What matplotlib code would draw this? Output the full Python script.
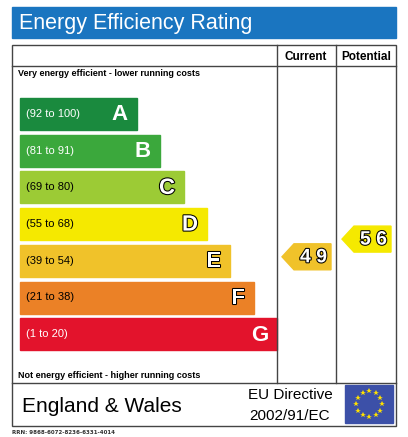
import matplotlib
matplotlib.use("Agg")
import matplotlib.pyplot as plt
from matplotlib.patches import Rectangle, Polygon
import matplotlib.patheffects as pe
import numpy as np

bands = ["A", "B", "C", "D", "E", "F", "G"]
ranges = ["(92 to 100)", "(81 to 91)", "(69 to 80)", "(55 to 68)", "(39 to 54)", "(21 to 38)", "(1 to 20)"]
colors = ["#1a8a3e", "#3ba83c", "#9ccb35", "#f5e900", "#f0c22a", "#eb8126", "#e3132c"]
bar_right = [137, 160, 184, 207, 230, 254, 277]
current = 49
potential = 56
current_band = "E"
potential_band = "D"

fig = plt.figure(figsize=(4.08, 4.37), dpi=100)
ax = fig.add_axes([0, 0, 1, 1])
ax.set_xlim(0, 408); ax.set_ylim(437, 0); ax.axis("off")

ax.add_patch(Rectangle((12, 7), 384, 31, color="#1a75c0"))
ax.text(19, 23, "Energy Efficiency Rating", color="white", fontsize=15.5, va="center", family="Liberation Sans")

lw = 1.0; lc = "#444444"
ax.add_patch(Rectangle((12, 45), 384, 381, fill=False, ec=lc, lw=lw))
ax.plot([12, 396], [66, 66], color=lc, lw=lw)
ax.plot([12, 396], [383, 383], color=lc, lw=lw)
ax.plot([277, 277], [45, 383], color=lc, lw=lw)
ax.plot([336, 336], [45, 383], color=lc, lw=lw)
ax.text(306, 57, "Current", ha="center", va="center", fontsize=8.5, weight="bold", family="Liberation Sans")
ax.text(366, 57, "Potential", ha="center", va="center", fontsize=8.5, weight="bold", family="Liberation Sans")
ax.text(18, 73, "Very energy efficient - lower running costs", va="center", fontsize=6.5, weight="bold", family="Liberation Sans")
ax.text(18, 375, "Not energy efficient - higher running costs", va="center", fontsize=6.5, weight="bold", family="Liberation Sans")

centers = {}
for i, (b, r, c, xr) in enumerate(zip(bands, ranges, colors, bar_right)):
    yc = 114 + i * 36.7
    centers[b] = yc
    ax.add_patch(Rectangle((20, yc - 16), xr - 20, 32, color=c))
    tc = "white" if b in "ABCG" else "black"
    ax.text(26, yc, r, va="center", fontsize=8, color="white" if b in "ABG" else "black", family="Liberation Sans")
    ax.text(xr - 9, yc + 1, b, ha="right", va="center", fontsize=16, weight="bold", color="white",
            family="Liberation Sans", path_effects=[pe.withStroke(linewidth=1.5, foreground="black")] if b not in "ABG" else None)

def arrow(x0, x1, yc, val, col):
    h = 13
    ax.add_patch(Polygon([(x0, yc), (x0 + 12, yc - h), (x1, yc - h), (x1, yc + h), (x0 + 12, yc + h)], color=col))
    ax.text((x0 + 12 + x1) / 2 + 1, yc + 1, " ".join(str(val)), ha="center", va="center", fontsize=14, weight="bold",
            color="white", family="Liberation Sans", path_effects=[pe.withStroke(linewidth=1.5, foreground="black")])

arrow(282, 331, centers[current_band] - 4, current, colors[bands.index(current_band)])
arrow(342, 391, centers[potential_band] + 15, potential, colors[bands.index(potential_band)])

ax.text(22, 406, "England & Wales", va="center", fontsize=15, family="Liberation Sans")
ax.text(290, 395, "EU Directive", ha="center", va="center", fontsize=11, family="Liberation Sans")
ax.text(290, 416, "2002/91/EC", ha="center", va="center", fontsize=11, family="Liberation Sans")
ax.add_patch(Rectangle((345, 385), 48, 38, color="#3c50a8"))
for a in np.linspace(0, 2 * np.pi, 13)[:-1]:
    ax.plot(369 + 13 * np.cos(a), 404 + 13 * np.sin(a), marker="*", color="#ffe000", ms=4, mew=0)
ax.text(12, 432, "RRN: 9868-6072-8236-6331-4014", va="center", fontsize=4, weight="bold", color="#333333")

fig.savefig("out.png", dpi=100)
